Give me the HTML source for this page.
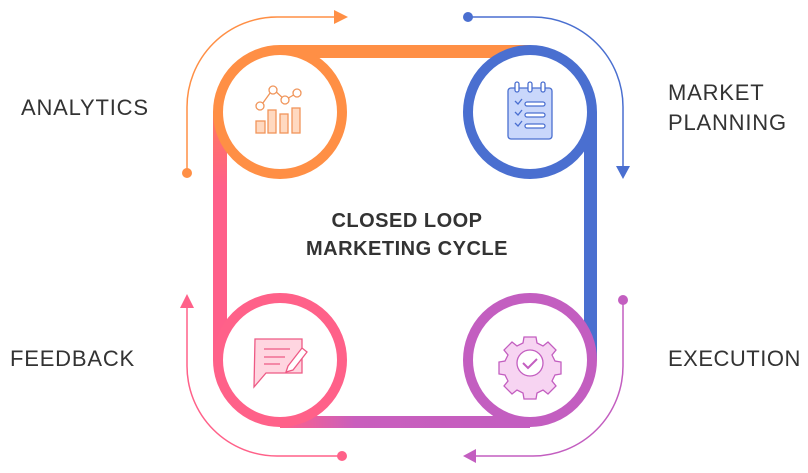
<!DOCTYPE html>
<html><head><meta charset="utf-8"><style>
html,body{margin:0;padding:0;background:#fff;width:808px;height:473px;overflow:hidden}
svg{display:block}
text{font-family:"Liberation Sans",sans-serif;fill:#333}
</style></head><body>
<svg width="808" height="473" viewBox="0 0 808 473">
<defs>
<linearGradient id="gb" x1="0" x2="1" y1="0" y2="0"><stop offset="0" stop-color="#ff6189"/><stop offset="0.3" stop-color="#c95fbd"/><stop offset="1" stop-color="#c35ec0"/></linearGradient>
<linearGradient id="gl" x1="0" x2="0" y1="0" y2="1"><stop offset="0" stop-color="#ff7a5c"/><stop offset="0.3" stop-color="#ff5f8a"/><stop offset="1" stop-color="#ff5f8a"/></linearGradient>
</defs>
<rect x="280" y="45" width="250" height="13" fill="#ff8f45"/>
<rect x="584" y="112" width="13" height="248" fill="#4a6fd0"/>
<rect x="213" y="112" width="14" height="248" fill="url(#gl)"/>
<rect x="280" y="416" width="250" height="12" fill="url(#gb)"/>
<circle cx="280" cy="112" r="62" fill="#fff" stroke="#ff8f45" stroke-width="10"/>
<circle cx="530" cy="112" r="62" fill="#fff" stroke="#4a6fd0" stroke-width="10"/>
<circle cx="280" cy="360" r="62" fill="#fff" stroke="#ff6189" stroke-width="10"/>
<circle cx="530" cy="360" r="62" fill="#fff" stroke="#c35ec0" stroke-width="10"/>
<g fill="none" stroke-width="1.5">
<path d="M187 173 V107 A90 90 0 0 1 277 17 H335" stroke="#ff8f45"/>
<path d="M468 17 H533 A90 90 0 0 1 623 107 V168" stroke="#4a6fd0"/>
<path d="M623 300 V366 A90 90 0 0 1 533 456 H472" stroke="#c35ec0"/>
<path d="M342 456 H277 A90 90 0 0 1 187 366 V305" stroke="#ff6189"/>
</g>
<circle cx="187" cy="173" r="5" fill="#ff8f45"/>
<polygon points="334,10 348,17 334,24" fill="#ff8f45"/>
<circle cx="468" cy="17" r="5" fill="#4a6fd0"/>
<polygon points="616,166 630,166 623,179" fill="#4a6fd0"/>
<circle cx="623" cy="300" r="5" fill="#c35ec0"/>
<polygon points="476,449 476,463 463,456" fill="#c35ec0"/>
<circle cx="342" cy="456" r="5" fill="#ff6189"/>
<polygon points="180,308 194,308 187,294" fill="#ff6189"/>
<g stroke="#f0955a" stroke-width="1.3" fill="#ffd9c0">
<rect x="256" y="121" width="9" height="12"/><rect x="268" y="110" width="8" height="23"/><rect x="280" y="114" width="8" height="19"/><rect x="292" y="108" width="8" height="25"/>
<polyline points="260,107 273,89 285,100 297,93" fill="none"/>
<circle cx="260" cy="106" r="4" fill="#fff"/><circle cx="273" cy="90" r="4" fill="#fff"/><circle cx="285" cy="100" r="4" fill="#fff"/><circle cx="297" cy="93" r="4" fill="#fff"/>
</g>
<g stroke="#4a6fd0" stroke-width="1.3">
<rect x="508" y="88" width="44" height="51" rx="3" fill="#c9d7fb"/>
<rect x="515" y="82" width="4" height="10" rx="2" fill="#fff"/><rect x="528" y="82" width="4" height="10" rx="2" fill="#fff"/><rect x="541" y="82" width="4" height="10" rx="2" fill="#fff"/>
<rect x="525" y="102" width="20" height="4" rx="2" fill="#fff"/><rect x="525" y="113" width="20" height="4" rx="2" fill="#fff"/><rect x="525" y="124" width="20" height="4" rx="2" fill="#fff"/>
<path d="M515 101 l3 3 l4 -5 M515 112 l3 3 l4 -5 M515 123 l3 3 l4 -5" fill="none"/>
</g>
<g stroke="#ee5a85" stroke-width="1.3">
<path d="M255 339 H302 V373 H266 L254 387 Z" fill="#ffd5e0"/>
<path d="M264 349 H290 M264 357 H285 M264 364 H280" fill="none"/>
<path d="M288 366 l14 -18 l5 4 l-14 18 l-7 2 z" fill="#fff"/>
</g>
<g stroke="#c35ec0" stroke-width="1.3">
<path d="M524 337 h12 l1 6 l6 3 l5 -4 l8 8 l-4 5 l3 6 l6 1 v12 l-6 1 l-3 6 l4 5 l-8 8 l-5 -4 l-6 3 l-1 6 h-12 l-1 -6 l-6 -3 l-5 4 l-8 -8 l4 -5 l-3 -6 l-6 -1 v-12 l6 -1 l3 -6 l-4 -5 l8 -8 l5 4 l6 -3 z" fill="#f7d4f2"/>
<circle cx="530" cy="363" r="13" fill="#fff"/>
<path d="M523 363 l5 5 l9 -9" fill="none" stroke-width="2"/>
</g>
<text x="21" y="115" font-size="22" letter-spacing="0.8">ANALYTICS</text>
<text x="668" y="100" font-size="22" letter-spacing="0.8">MARKET</text>
<text x="668" y="130" font-size="22" letter-spacing="0.8">PLANNING</text>
<text x="10" y="366" font-size="22" letter-spacing="0.8">FEEDBACK</text>
<text x="668" y="366" font-size="22" letter-spacing="0.5">EXECUTION</text>
<text x="407" y="227" font-size="20" font-weight="bold" text-anchor="middle" letter-spacing="0.5">CLOSED LOOP</text>
<text x="407" y="255" font-size="20" font-weight="bold" text-anchor="middle" letter-spacing="0.5">MARKETING CYCLE</text>
</svg>
</body></html>
